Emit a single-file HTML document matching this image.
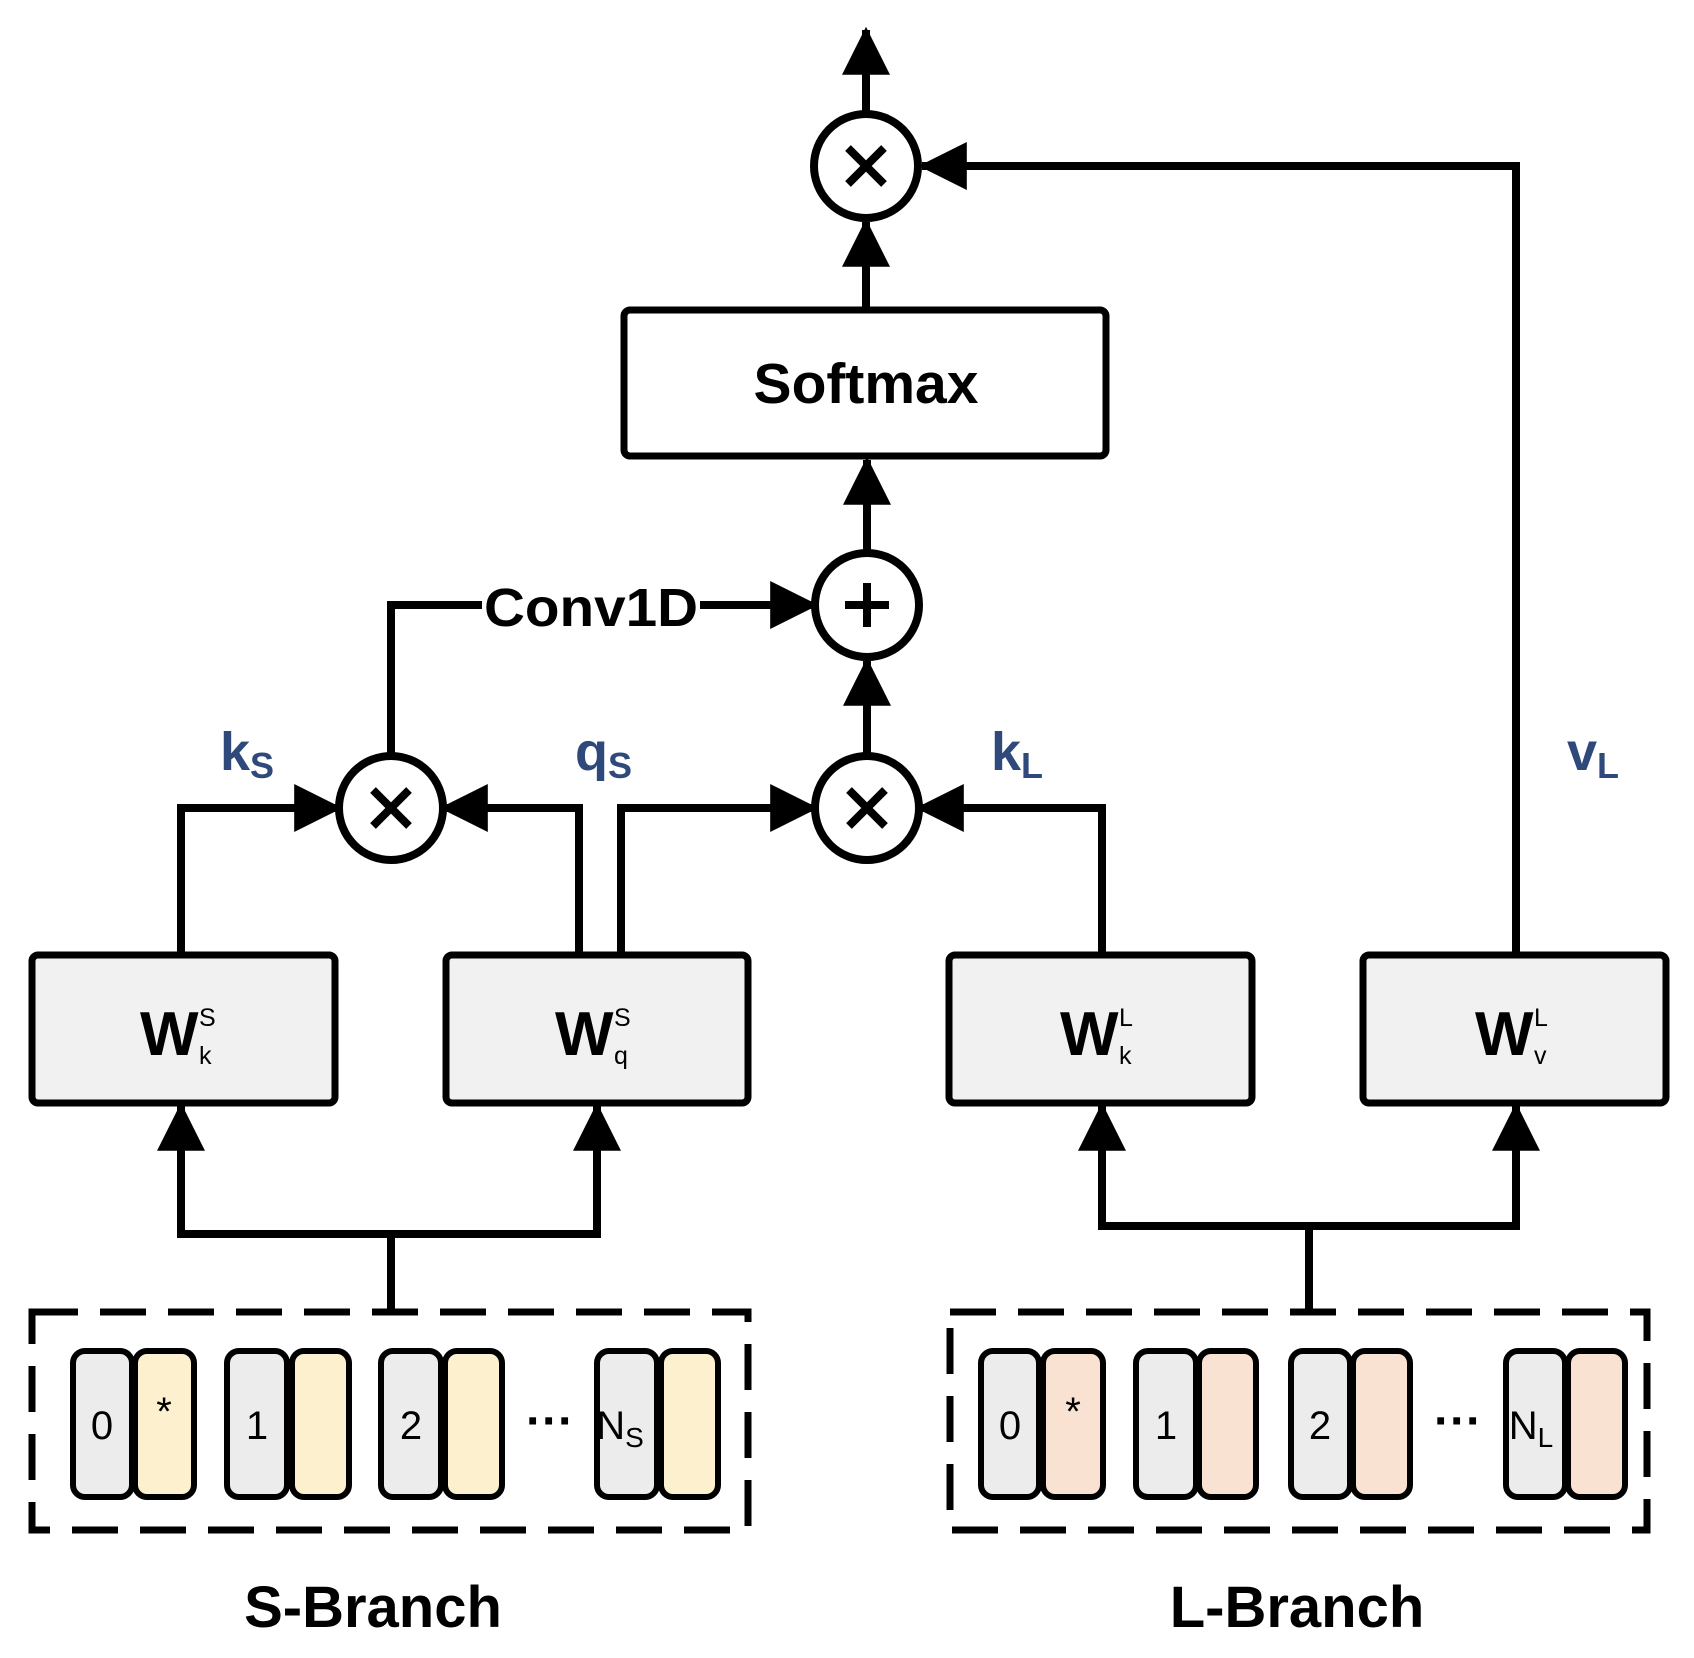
<!DOCTYPE html>
<html><head><meta charset="utf-8"><style>
html,body{margin:0;padding:0;background:#fff;}
svg{display:block;}
text{font-family:"Liberation Sans",sans-serif;}
</style></head><body>
<svg width="1694" height="1658" viewBox="0 0 1694 1658" xmlns="http://www.w3.org/2000/svg">
<defs>
<marker id="a" markerWidth="6" markerHeight="6" refX="5.6" refY="3" orient="auto" markerUnits="strokeWidth">
<path d="M0,0 L6,3 L0,6 z" fill="#000"/>
</marker>
</defs>
<g fill="none" stroke="#000" stroke-width="8" stroke-linejoin="miter">
<line x1="866" y1="114" x2="866" y2="30" marker-end="url(#a)"/>
<polyline points="1516,955 1516,166 922,166" marker-end="url(#a)"/>
<line x1="866" y1="310" x2="866" y2="222" marker-end="url(#a)"/>
<line x1="867" y1="553" x2="867" y2="460" marker-end="url(#a)"/>
<polyline points="391,756 391,605 482,605"/>
<line x1="700" y1="605" x2="815" y2="605" marker-end="url(#a)"/>
<line x1="867" y1="756" x2="867" y2="661" marker-end="url(#a)"/>
<polyline points="181,955 181,808 339,808" marker-end="url(#a)"/>
<polyline points="579,955 579,808 443,808" marker-end="url(#a)"/>
<polyline points="621,955 621,808 815,808" marker-end="url(#a)"/>
<polyline points="1102,955 1102,808 919,808" marker-end="url(#a)"/>
<polyline points="181,1234 181,1106" marker-end="url(#a)"/>
<polyline points="597,1234 597,1106" marker-end="url(#a)"/>
<line x1="177" y1="1234" x2="601" y2="1234"/>
<line x1="391" y1="1234" x2="391" y2="1312"/>
<polyline points="1102,1226 1102,1106" marker-end="url(#a)"/>
<polyline points="1516,1226 1516,1106" marker-end="url(#a)"/>
<line x1="1098" y1="1226" x2="1520" y2="1226"/>
<line x1="1309" y1="1226" x2="1309" y2="1312"/>
</g>
<g fill="#fff" stroke="#000" stroke-width="8">
<circle cx="866" cy="166" r="52"/>
<circle cx="867" cy="605" r="52"/>
<circle cx="391" cy="808" r="52"/>
<circle cx="867" cy="808" r="52"/>
</g>
<g stroke="#000" stroke-width="8" stroke-linecap="butt">
<path d="M848,148 L884,184 M884,148 L848,184"/>
<path d="M373,790 L409,826 M409,790 L373,826"/>
<path d="M849,790 L885,826 M885,790 L849,826"/>
<path d="M867,583 L867,627 M845,605 L889,605"/>
</g>
<rect x="624" y="310" width="482" height="146" rx="6" fill="#fff" stroke="#000" stroke-width="7"/>
<text x="866" y="403" font-size="57" font-weight="bold" text-anchor="middle">Softmax</text>
<text x="591" y="626" font-size="54" font-weight="bold" text-anchor="middle" textLength="214" lengthAdjust="spacingAndGlyphs">Conv1D</text>
<g fill="#2f4a7a" font-weight="bold">
<text x="220" y="770" font-size="54">k<tspan font-size="36" dy="8">S</tspan></text>
<text x="575" y="770" font-size="54">q<tspan font-size="36" dy="8">S</tspan></text>
<text x="991" y="770" font-size="54">k<tspan font-size="36" dy="8">L</tspan></text>
<text x="1567" y="770" font-size="54">v<tspan font-size="36" dy="8">L</tspan></text>
</g>
<g fill="#f1f1f1" stroke="#000" stroke-width="7">
<rect x="32" y="955" width="303" height="148" rx="6"/>
<rect x="446" y="955" width="302" height="148" rx="6"/>
<rect x="949" y="955" width="303" height="148" rx="6"/>
<rect x="1363" y="955" width="303" height="148" rx="6"/>
</g>
<g font-weight="bold">
<text x="140" y="1055" font-size="62">W</text>
<text x="555" y="1055" font-size="62">W</text>
<text x="1060" y="1055" font-size="62">W</text>
<text x="1475" y="1055" font-size="62">W</text>
</g>
<g font-size="25">
<text x="199" y="1026">S</text><text x="199" y="1064">k</text>
<text x="614" y="1026">S</text><text x="614" y="1064">q</text>
<text x="1119" y="1026">L</text><text x="1119" y="1064">k</text>
<text x="1534" y="1026">L</text><text x="1534" y="1064">v</text>
</g>
<g fill="none" stroke="#000" stroke-width="7" stroke-dasharray="46,22">
<rect x="32" y="1312" width="716" height="218"/>
<rect x="950" y="1312" width="697" height="218"/>
</g>
<g stroke="#000" stroke-width="6">
<rect x="73" y="1351" width="59" height="146" rx="12" fill="#ececec"/>
<rect x="135" y="1351" width="59" height="146" rx="12" fill="#fdf0cf"/>
<rect x="227" y="1351" width="60" height="146" rx="12" fill="#ececec"/>
<rect x="292" y="1351" width="57" height="146" rx="12" fill="#fdf0cf"/>
<rect x="381" y="1351" width="60" height="146" rx="12" fill="#ececec"/>
<rect x="445" y="1351" width="57" height="146" rx="12" fill="#fdf0cf"/>
<rect x="597" y="1351" width="60" height="146" rx="12" fill="#ececec"/>
<rect x="661" y="1351" width="57" height="146" rx="12" fill="#fdf0cf"/>
<rect x="981" y="1351" width="58" height="146" rx="12" fill="#ececec"/>
<rect x="1043" y="1351" width="60" height="146" rx="12" fill="#f9e2d2"/>
<rect x="1136" y="1351" width="60" height="146" rx="12" fill="#ececec"/>
<rect x="1199" y="1351" width="57" height="146" rx="12" fill="#f9e2d2"/>
<rect x="1291" y="1351" width="59" height="146" rx="12" fill="#ececec"/>
<rect x="1353" y="1351" width="57" height="146" rx="12" fill="#f9e2d2"/>
<rect x="1506" y="1351" width="59" height="146" rx="12" fill="#ececec"/>
<rect x="1568" y="1351" width="57" height="146" rx="12" fill="#f9e2d2"/>
</g>
<g font-size="40" text-anchor="middle">
<text x="102" y="1439">0</text><text x="164" y="1425">*</text>
<text x="257" y="1439">1</text><text x="411" y="1439">2</text>
<text x="620" y="1439">N<tspan font-size="28" dy="8">S</tspan></text>
<text x="1010" y="1439">0</text><text x="1073" y="1425">*</text>
<text x="1166" y="1439">1</text><text x="1320" y="1439">2</text>
<text x="1531" y="1439">N<tspan font-size="28" dy="8">L</tspan></text>
</g>
<g font-size="48" font-weight="bold" text-anchor="middle">
<text x="550" y="1437">···</text>
<text x="1458" y="1437">···</text>
</g>
<g font-size="58" font-weight="bold" text-anchor="middle">
<text x="373" y="1627">S-Branch</text>
<text x="1297" y="1627">L-Branch</text>
</g>
</svg>
</body></html>
